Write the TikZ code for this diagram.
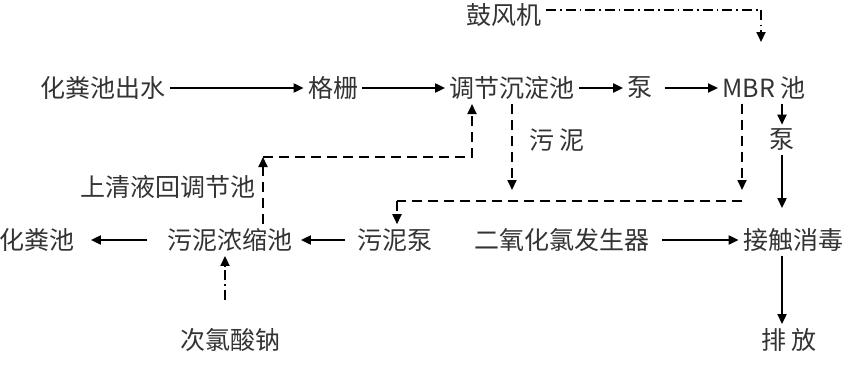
\documentclass[tikz,border=0pt]{standalone}
\usepackage{fontspec}
\setmainfont{Noto Sans CJK SC}
\usetikzlibrary{arrows.meta}
\definecolor{txtgray}{HTML}{333333}

\begin{document}
\begin{tikzpicture}[x=0.5pt,y=-0.5pt,
    every node/.style={font=\fontsize{12.5}{14}\selectfont,text=txtgray,inner sep=2pt},
    flow/.style={line width=1pt,-{Triangle[length=5pt,width=4.5pt]}},
    sludge/.style={line width=0.9pt,dash pattern=on 5pt off 3pt,-{Triangle[length=5pt,width=4.5pt]}},
    dline/.style={line width=0.9pt,dash pattern=on 5pt off 3pt},
    air/.style={line width=0.9pt,dash pattern=on 5pt off 2pt on 0.8pt off 2pt,-{Triangle[length=5pt,width=4.5pt]}},
  ]
  \useasboundingbox (0,0) rectangle (854,380);
  % main line
  \node (inlet)  at (103,88)  {化粪池出水};
  \node (grid)   at (333,88)  {格栅};
  \node (tank)   at (512,88)  {调节沉淀池};
  \node (pumpa)  at (640,88)  {泵};
  \node (mbr)    at (764,88)  {MBR 池};
  \node (blower) at (504,15)  {鼓风机};
  \node (pumpb)  at (782,140) {泵};
  \node (disinf) at (793,240) {接触消毒};
  \node (clo)    at (562,240) {二氧化氯发生器};
  \node (outlet) at (789,340) {排\ 放};
  % sludge line
  \node (spump)  at (395,240) {污泥泵};
  \node (thick)  at (230,240) {污泥浓缩池};
  \node (septic) at (37,240)  {化粪池};
  \node (naclo)  at (230,340) {次氯酸钠};
  \node (back)   at (168,187) {上清液回调节池};
  \node (mud)    at (557,140) {污\ 泥};
  \coordinate (ac) at (761,10);
  \coordinate (ae) at (761,42);
  \coordinate (ja) at (512,190);
  \coordinate (jb) at (742,190);
  \coordinate (hr) at (742,201);
  \coordinate (hl) at (397,201);
  \coordinate (ra) at (263,157);
  \coordinate (rb) at (472,157);
  \coordinate (nc) at (225,300);

  \draw[flow] (inlet) -- (grid);
  \draw[flow] (grid) -- (tank);
  \draw[flow] (tank) -- (pumpa);
  \draw[flow,shorten <=4pt] (pumpa) -- (mbr);
  \draw[flow] (pumpb |- mbr.south) -- (pumpb.north);
  \draw[flow,shorten >=8pt] (pumpb.south) -- (pumpb |- disinf.north);
  \draw[flow,shorten <=4pt] (clo) -- (disinf);
  \draw[flow] (disinf.south -| pumpb) -- (outlet.north -| pumpb);
  \draw[air] (blower.east |- ac) -- (ac) -- (ae);

  \draw[sludge] (tank.south) -- (ja);
  \draw[sludge] (mbr.south -| jb) -- (jb);
  \draw[dline] (hr) -- (hl);
  \draw[sludge] (hl) -- (spump.north -| hl);
  \draw[flow,shorten <=4pt,shorten >=2pt] (spump) -- (thick);
  \draw[flow,shorten <=8pt,shorten >=6pt] (thick) -- (septic);
  \draw[sludge] (thick.north -| ra) -- (ra);
  \draw[sludge] (ra) -- (rb) -- (rb |- tank.south);
  \draw[air] (nc) -- (nc |- thick.south);
\end{tikzpicture}
\end{document}
